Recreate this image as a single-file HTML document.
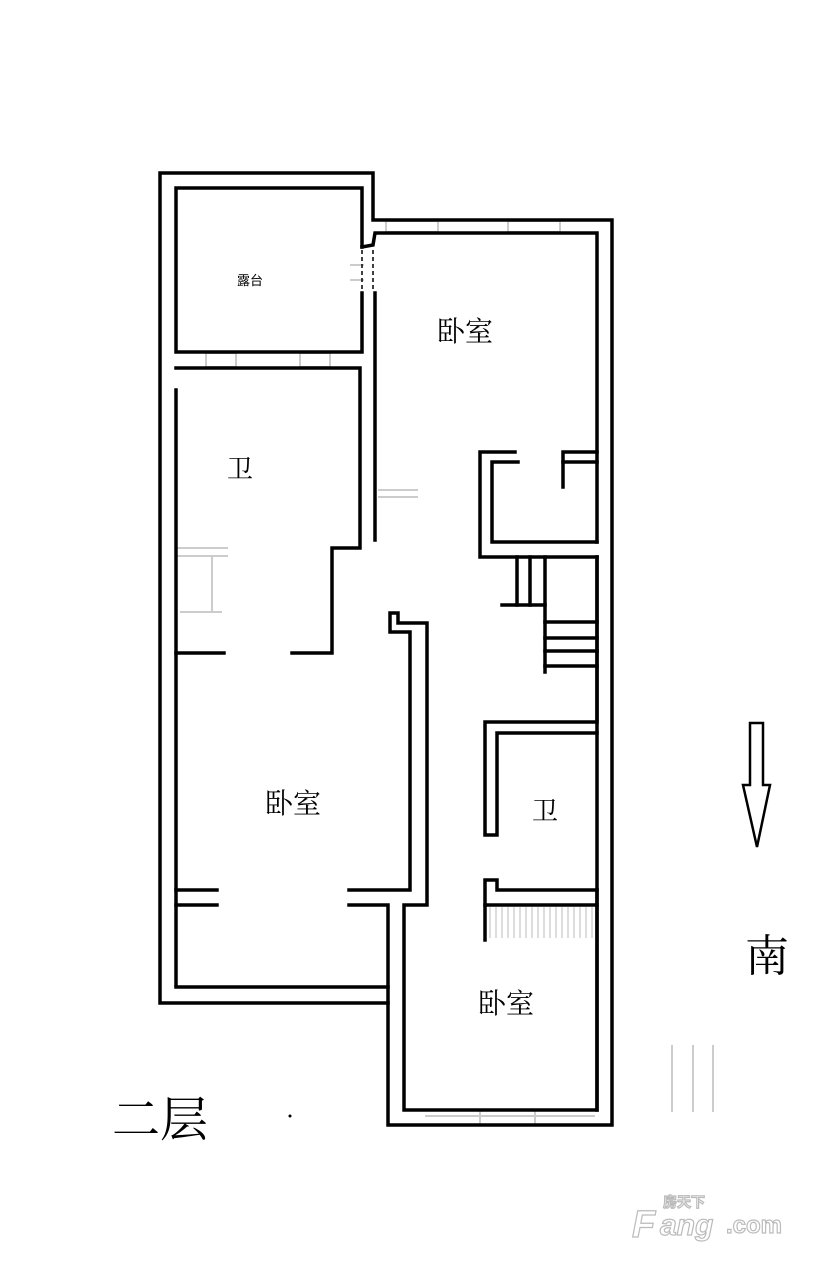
<!DOCTYPE html>
<html><head><meta charset="utf-8"><style>
html,body{margin:0;padding:0;background:#fff;}
svg{display:block;}
</style></head><body>
<svg width="828" height="1262" viewBox="0 0 828 1262" xmlns="http://www.w3.org/2000/svg" font-family="'Liberation Serif','Noto Serif CJK SC',serif">
<rect width="828" height="1262" fill="#fff"/>
<!-- faint details -->
<g stroke="#ccc" stroke-width="2" fill="none">
<rect x="386" y="221" width="52" height="11"/><rect x="508" y="221" width="52" height="11"/>
<rect x="206" y="353" width="30" height="14"/><rect x="300" y="353" width="30" height="14"/>
<line x1="378" y1="490" x2="418" y2="490"/><line x1="378" y1="497" x2="418" y2="497"/>
<line x1="176" y1="548" x2="228" y2="548"/><line x1="176" y1="556" x2="228" y2="556"/>
<line x1="212" y1="556" x2="212" y2="612"/><line x1="180" y1="612" x2="222" y2="612"/>
<line x1="672" y1="1045" x2="672" y2="1112"/><line x1="693" y1="1045" x2="693" y2="1112"/><line x1="713" y1="1045" x2="713" y2="1112"/>
<line x1="425" y1="1116" x2="595" y2="1116"/>
<line x1="480" y1="1111" x2="480" y2="1124"/><line x1="535" y1="1111" x2="535" y2="1124"/>
<line x1="350" y1="265" x2="364" y2="265"/><line x1="350" y1="280" x2="364" y2="280"/>
</g>
<g stroke="#bbb" stroke-width="1">
<line x1="490" y1="907" x2="490" y2="938"/><line x1="496" y1="907" x2="496" y2="938"/><line x1="502" y1="907" x2="502" y2="938"/><line x1="508" y1="907" x2="508" y2="938"/><line x1="514" y1="907" x2="514" y2="938"/><line x1="520" y1="907" x2="520" y2="938"/><line x1="526" y1="907" x2="526" y2="938"/><line x1="532" y1="907" x2="532" y2="938"/><line x1="538" y1="907" x2="538" y2="938"/><line x1="544" y1="907" x2="544" y2="938"/><line x1="550" y1="907" x2="550" y2="938"/><line x1="556" y1="907" x2="556" y2="938"/><line x1="562" y1="907" x2="562" y2="938"/><line x1="568" y1="907" x2="568" y2="938"/><line x1="574" y1="907" x2="574" y2="938"/><line x1="580" y1="907" x2="580" y2="938"/><line x1="586" y1="907" x2="586" y2="938"/><line x1="592" y1="907" x2="592" y2="938"/>
</g>
<g stroke="#000" stroke-width="3.5" fill="none" stroke-linecap="square">
<!-- outer -->
<path d="M160,1003 L160,173 L373,173 L373,220 L612,220 L612,1125 L388,1125 L388,1003 L160,1003"/>
<!-- terrace -->
<path d="M362,247 L362,188 L176,188 L176,352 L362,352 L362,293"/>
<path d="M362,247 L373,245 L375,233 L597,233 L597,542"/>
<line x1="375" y1="293" x2="375" y2="540"/>
<!-- left bathroom -->
<path d="M176,368 L360,368 L360,548 L332,548 L332,653 L292,653"/>
<line x1="176" y1="390" x2="176" y2="985"/>
<line x1="176" y1="653" x2="224" y2="653"/>
<!-- left bedroom -->
<path d="M176,890 L217,890"/>
<path d="M349,890 L410,890 L410,632 L390,632 L390,613 L398,613 L398,623 L427,623 L427,905 L404,905 L404,1110 L597,1110 L597,557"/>
<path d="M176,905 L217,905"/>
<path d="M349,905 L388,905 L388,1003"/>
<line x1="176" y1="987" x2="388" y2="987"/>
<!-- closet -->
<path d="M515,452 L480,452 L480,557 L597,557"/>
<path d="M518,462 L492,462 L492,542 L597,542"/>
<path d="M563,487 L563,452 L597,452"/>
<line x1="563" y1="462" x2="597" y2="462"/>
<!-- stairs -->
<line x1="517" y1="557" x2="517" y2="605"/><line x1="530" y1="557" x2="530" y2="605"/>
<line x1="545" y1="557" x2="545" y2="672"/><line x1="502" y1="605" x2="545" y2="605"/>
<line x1="545" y1="622" x2="597" y2="622"/><line x1="545" y1="638" x2="597" y2="638"/>
<line x1="545" y1="651" x2="597" y2="651"/><line x1="545" y1="666" x2="597" y2="666"/>
<line x1="597" y1="557" x2="597" y2="720"/>
<!-- right bathroom -->
<path d="M597,722 L485,722 L485,835 L497,835 L497,733 L597,733"/>
<path d="M485,940 L485,880 L497,880 L497,890 L597,890"/>
<line x1="485" y1="905" x2="597" y2="905"/>
<line x1="597" y1="890" x2="597" y2="1110"/>
</g>
<g stroke="#000" stroke-width="1.5" stroke-dasharray="4,3" fill="none">
<line x1="362" y1="250" x2="362" y2="292"/><line x1="373" y1="250" x2="373" y2="292"/>
</g>
<!-- compass arrow -->
<path d="M750,723 L763,723 L763,785 L770,785 L757,847 L743,785 L750,785 Z" fill="#fff" stroke="#000" stroke-width="2.5"/>
<g fill="#000">
<text x="767" y="971" font-size="44" text-anchor="middle">南</text>
<text x="250" y="285" font-size="13" text-anchor="middle" font-family="'Liberation Sans','Noto Sans CJK SC',sans-serif">露台</text>
<text x="465" y="341" font-size="28" text-anchor="middle">卧室</text>
<text x="240" y="478" font-size="26" text-anchor="middle">卫</text>
<text x="293" y="813" font-size="28" text-anchor="middle">卧室</text>
<text x="545" y="820" font-size="26" text-anchor="middle">卫</text>
<text x="506" y="1013" font-size="28" text-anchor="middle">卧室</text>
<text x="160" y="1136" font-size="48" text-anchor="middle">二层</text>
<circle cx="290" cy="1116" r="1.5"/>
</g>
<g font-family="'Liberation Sans','Noto Sans CJK SC',sans-serif" font-weight="bold" fill="#fff" stroke="#bbb" stroke-width="1.2">
<text x="663" y="1207" font-size="14">房天下</text>
<text x="632" y="1237" font-size="38" font-style="italic">F</text>
<text x="660" y="1235" font-size="30" font-style="italic">ang</text>
<text x="726" y="1233" font-size="24">.com</text>
</g>
</svg>
</body></html>
